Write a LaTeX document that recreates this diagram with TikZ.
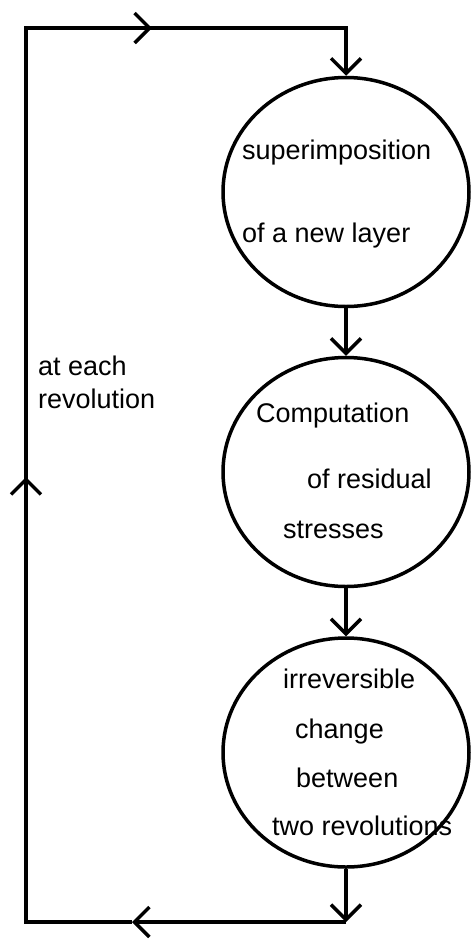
\documentclass[tikz,border=0pt]{standalone}
\usepackage{fontspec}
\setmainfont{Liberation Sans}
\usetikzlibrary{shapes.geometric,arrows.meta}
\tikzset{
  flowline/.style={line width=3.5pt, line cap=butt, line join=miter},
  vtip/.style={-{Straight Barb[length=15pt,width=30pt]}},
  bubble/.style={ellipse, draw, line width=3.5pt, minimum width=246pt, minimum height=229pt, inner sep=0pt},
  lbl/.style={anchor=base west, inner sep=0pt, font=\fontsize{27}{32}\selectfont}
}
\begin{document}
\begin{tikzpicture}[x=1pt,y=-1pt]
\useasboundingbox (0,0) rectangle (471,940);
\node[bubble] (c1) at (346,192) {};
\node[bubble] (c2) at (346,472) {};
\node[bubble] (c3) at (346,752.5) {};
% texts
\node[lbl] (t1) at (242,159) {superimposition};
\node[lbl] (t2) at (242,242) {of a new layer};
\node[lbl] (t3) at (256,422) {Computation};
\node[lbl] (t4) at (307,488) {of residual};
\node[lbl] (t5) at (283,538) {stresses};
\node[lbl] (t6) at (283,688) {irreversible};
\node[lbl] (t7) at (295,738) {change};
\node[lbl] (t8) at (296,787) {between};
\node[lbl] (t9) at (272,835) {two revolutions};
\node[lbl] (t10) at (38,375) {at each};
\node[lbl] (t11) at (38,408) {revolution};
% loop coordinates
\coordinate (br) at (346,922);
\coordinate (mb) at (132,922);
\coordinate (bl) at (26,922);
\coordinate (ml) at (26,477);
\coordinate (tl) at (26,28);
\coordinate (mt) at (152,28);
\coordinate (tr) at (346,28);
% connectors
\draw[flowline,vtip] (c1.south) -- (c2.north);
\draw[flowline,vtip] (c2.south) -- (c3.north);
\draw[flowline,vtip] (c3.south) -- (br);
\draw[flowline,vtip] (br) -- (mb);
\draw[flowline] (mb) -- (bl) -- (ml);
\draw[flowline,vtip] (bl) -- (ml);
\draw[flowline] (ml) -- (tl) -- (mt);
\draw[flowline,vtip] (tl) -- (mt);
\draw[flowline,vtip] (mt) -- (tr) -- (c1.north);
\end{tikzpicture}
\end{document}
